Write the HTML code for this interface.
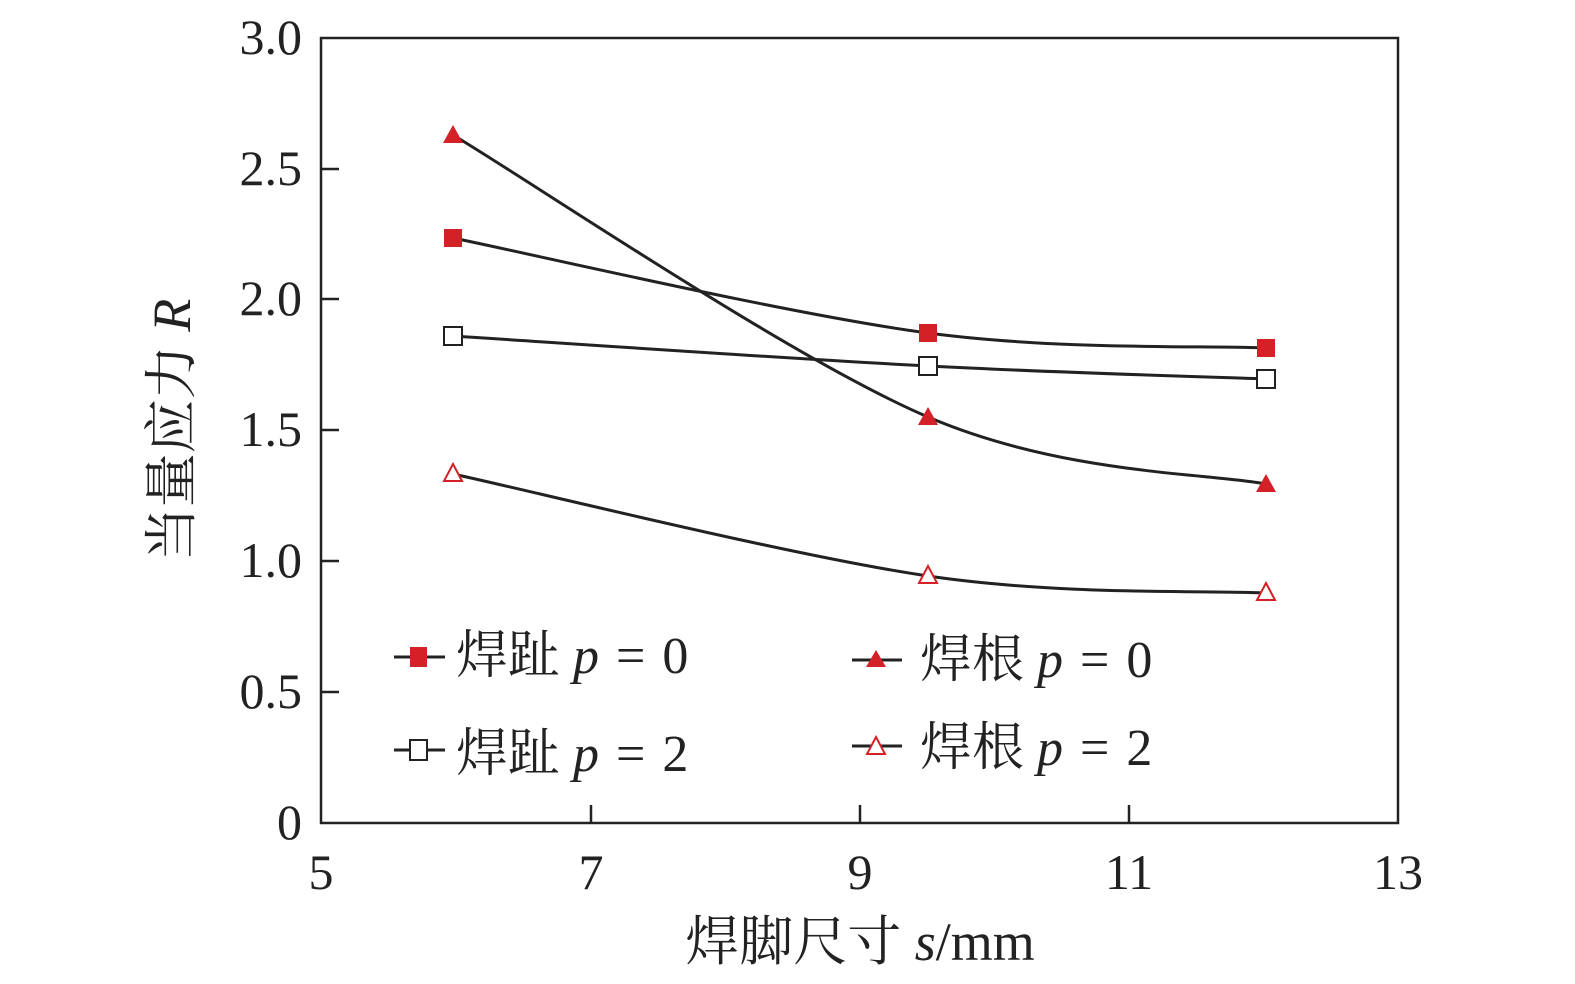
<!DOCTYPE html>
<html><head><meta charset="utf-8"><style>
html,body{margin:0;padding:0;background:#fff;overflow:hidden}
svg{display:block}
text{font-family:"Liberation Serif","Noto Serif CJK SC",serif;fill:#222}
</style></head><body>
<svg width="1575" height="984" viewBox="0 0 1575 984" xmlns="http://www.w3.org/2000/svg">
<rect x="321" y="38" width="1077" height="785" fill="none" stroke="#222" stroke-width="2.5"/>
<g stroke="#222" stroke-width="2.5">
<line x1="591" y1="823" x2="591" y2="805"/><line x1="860" y1="823" x2="860" y2="805"/><line x1="1129" y1="823" x2="1129" y2="805"/>
<line x1="321" y1="692" x2="339" y2="692"/><line x1="321" y1="561" x2="339" y2="561"/><line x1="321" y1="430" x2="339" y2="430"/>
<line x1="321" y1="299" x2="339" y2="299"/><line x1="321" y1="169" x2="339" y2="169"/>
</g>
<g font-size="50" text-anchor="end">
<text x="302" y="54">3.0</text><text x="302" y="185">2.5</text><text x="302" y="315">2.0</text>
<text x="302" y="446">1.5</text><text x="302" y="577">1.0</text><text x="302" y="708">0.5</text><text x="302" y="839">0</text>
</g>
<g font-size="50" text-anchor="middle">
<text x="321" y="889">5</text><text x="591" y="889">7</text><text x="860" y="889">9</text><text x="1129" y="889">11</text><text x="1398" y="889">13</text>
</g>
<text x="860" y="960" font-size="54" text-anchor="middle">焊脚尺寸 <tspan font-style="italic">s</tspan>/mm</text>
<text transform="translate(190,430) rotate(-90)" font-size="54" text-anchor="middle">当量应力 <tspan font-style="italic">R</tspan></text>
<g fill="none" stroke="#222" stroke-width="3">
<path d="M453,135 C532,182 792,359 928,417 C1064,475 1210,473 1266,484"/>
<path d="M453,238 C532,254 792,315 928,333 C1064,351 1210,345 1266,348"/>
<path d="M453,336 C532,341 792,359 928,366 C1064,373 1210,377 1266,379"/>
<path d="M453,474 C532,491 792,556 928,576 C1064,596 1210,590 1266,593"/>
</g>
<g fill="#d42027">
<rect x="444" y="229" width="18" height="18"/><rect x="919" y="324" width="18" height="18"/><rect x="1257" y="339" width="18" height="18"/>
<polygon points="453,125 463,143 443,143"/><polygon points="928,407 938,425 918,425"/><polygon points="1266,474 1276,492 1256,492"/>
</g>
<g fill="#fff" stroke="#222" stroke-width="2">
<rect x="444" y="327" width="18" height="18"/><rect x="919" y="357" width="18" height="18"/><rect x="1257" y="370" width="18" height="18"/>
</g>
<g fill="#fff" stroke="#d42027" stroke-width="2">
<polygon points="453,464 462,481 444,481"/><polygon points="928,566 937,583 919,583"/><polygon points="1266,583 1275,600 1257,600"/>
</g>
<g stroke="#222" stroke-width="3">
<line x1="394" y1="657" x2="445" y2="657"/><line x1="394" y1="750" x2="445" y2="750"/>
<line x1="852" y1="660" x2="902" y2="660"/><line x1="852" y1="746" x2="902" y2="746"/>
</g>
<rect x="410" y="647" width="17" height="20" fill="#d42027"/>
<rect x="410" y="740" width="17" height="20" fill="#fff" stroke="#222" stroke-width="2"/>
<polygon points="876,650 886,667 866,667" fill="#d42027"/>
<polygon points="876,737 885,754 867,754" fill="#fff" stroke="#d42027" stroke-width="2"/>
<g font-size="52">
<text x="456" y="673">焊趾 <tspan font-style="italic">p</tspan> <tspan dx="4">=</tspan> <tspan dx="4">0</tspan></text>
<text x="456" y="771">焊趾 <tspan font-style="italic">p</tspan> <tspan dx="4">=</tspan> <tspan dx="4">2</tspan></text>
<text x="920" y="677">焊根 <tspan font-style="italic">p</tspan> <tspan dx="4">=</tspan> <tspan dx="4">0</tspan></text>
<text x="920" y="765">焊根 <tspan font-style="italic">p</tspan> <tspan dx="4">=</tspan> <tspan dx="4">2</tspan></text>
</g>
</svg>
</body></html>
